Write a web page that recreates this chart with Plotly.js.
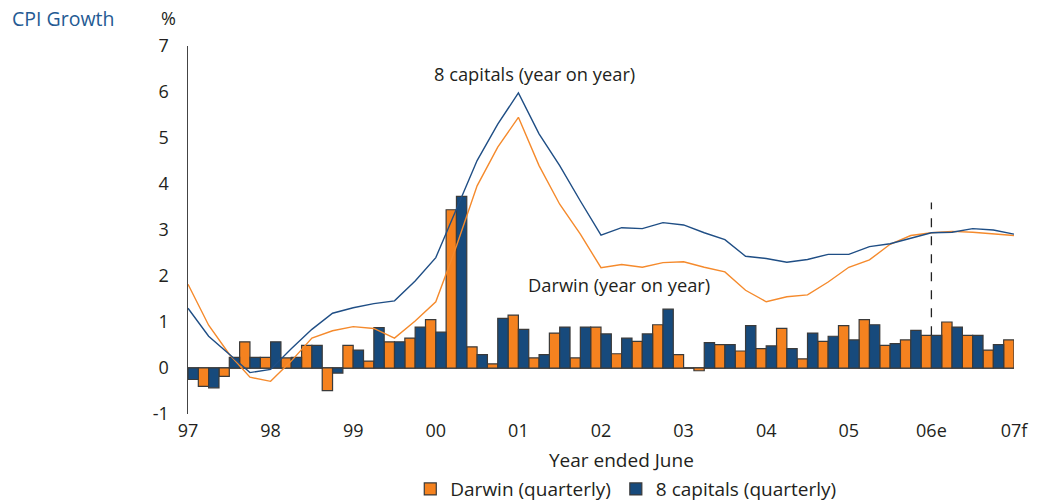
<!DOCTYPE html>
<html>
<head>
<meta charset="utf-8">
<script src="https://cdn.plot.ly/plotly-3.0.1.min.js"></script>
<style>
  html, body { margin: 0; padding: 0; background: #fff; }
  #chart { width: 1041px; height: 501px; }
</style>
</head>
<body>
<div id="chart"></div>
<script>
// Quarter index: 0 = June 1997 ... 40 = June 2007
const quarters = Array.from({length: 41}, (_, i) => i);

const tickPositions = [0, 4, 8, 12, 16, 20, 24, 28, 32, 36, 40];
const tickLabels = ['97', '98', '99', '00', '01', '02', '03', '04', '05', '06e', '07f'];

const yTickValues = [-1, 0, 1, 2, 3, 4, 5, 6, 7];
const yTickLabels = ['-1', '0', '1', '2', '3', '4', '5', '6', '7'];

// Quarterly CPI growth (%)
const darwinQuarterly = [null, -0.40, -0.18, 0.57, 0.23, 0.22, 0.49, -0.49, 0.49, 0.15,
  0.57, 0.65, 1.05, 3.44, 0.46, 0.09, 1.15, 0.22, 0.76, 0.22,
  0.89, 0.31, 0.58, 0.94, 0.29, -0.06, 0.51, 0.37, 0.42, 0.86,
  0.20, 0.58, 0.92, 1.05, 0.49, 0.61, 0.71, 1.00, 0.71, 0.39, 0.61];

const capitalsQuarterly = [-0.25, -0.43, 0.23, 0.23, 0.57, 0.23, 0.49, -0.11, 0.39, 0.88,
  0.57, 0.89, 0.78, 3.73, 0.29, 1.08, 0.84, 0.29, 0.89, 0.89,
  0.74, 0.65, 0.74, 1.28, 0.00, 0.55, 0.51, 0.92, 0.48, 0.42,
  0.76, 0.69, 0.61, 0.94, 0.53, 0.82, 0.71, 0.89, 0.71, 0.51, null];

// Year-on-year CPI growth (%)
const darwinYoY = [1.82, 0.93, 0.30, -0.20, -0.29, 0.15, 0.65, 0.81, 0.90, 0.86,
  0.65, 1.02, 1.44, 2.65, 3.96, 4.80, 5.45, 4.40, 3.56, 2.91,
  2.18, 2.25, 2.19, 2.29, 2.31, 2.19, 2.09, 1.69, 1.44, 1.55,
  1.59, 1.87, 2.19, 2.35, 2.69, 2.88, 2.94, 2.97, 2.95, 2.91, 2.88];

const capitalsYoY = [1.30, 0.69, 0.30, -0.10, -0.03, 0.42, 0.84, 1.19, 1.31, 1.40,
  1.46, 1.89, 2.40, 3.45, 4.51, 5.30, 5.98, 5.09, 4.40, 3.63,
  2.89, 3.05, 3.03, 3.16, 3.11, 2.94, 2.79, 2.43, 2.38, 2.30,
  2.36, 2.47, 2.47, 2.64, 2.70, 2.82, 2.94, 2.95, 3.03, 3.00, 2.91];

const forecastStart = 36;   // 06e
const forecastLineTop = 3.6;

const ORANGE = '#F5821F';
const BLUE = '#174A7C';
const TEXT = '#231F20';
const FONT = 'Open Sans, sans-serif';

const traces = [
  {
    type: 'bar', name: 'Darwin (quarterly)', x: quarters, y: darwinQuarterly,
    marker: {color: ORANGE, line: {color: '#3a3a3a', width: 1.2}},
    hoverinfo: 'skip'
  },
  {
    type: 'bar', name: '8 capitals (quarterly)', x: quarters, y: capitalsQuarterly,
    marker: {color: BLUE, line: {color: '#3a3a3a', width: 1.2}},
    hoverinfo: 'skip'
  },
  {
    type: 'scatter', mode: 'lines', name: 'Darwin (year on year)', x: quarters, y: darwinYoY,
    line: {color: '#F58A2C', width: 1.4}, showlegend: false, hoverinfo: 'skip'
  },
  {
    type: 'scatter', mode: 'lines', name: '8 capitals (year on year)', x: quarters, y: capitalsYoY,
    line: {color: '#1F4E85', width: 1.4}, showlegend: false, hoverinfo: 'skip'
  }
];

const layout = {
  width: 1041, height: 501,
  margin: {l: 188, r: 27, t: 46, b: 87, autoexpand: false},
  paper_bgcolor: '#fff', plot_bgcolor: '#fff',
  font: {family: FONT, color: TEXT, size: 18},
  barmode: 'group', bargap: 0, bargroupgap: 0,
  showlegend: true,
  legend: {
    orientation: 'h', x: 0.53, xanchor: 'center', y: -0.204, yanchor: 'middle',
    font: {family: FONT, size: 19, color: TEXT}, traceorder: 'normal',
    itemwidth: 30, tracegroupgap: 0
  },
  xaxis: {
    range: [0, 40], showgrid: false, zeroline: false, showline: false,
    tickmode: 'array', tickvals: tickPositions, ticktext: tickLabels,
    ticks: '', ticklabelstandoff: 4,
    tickfont: {family: FONT, size: 18, color: TEXT}, fixedrange: true
  },
  yaxis: {
    range: [-1, 7], showgrid: false,
    zeroline: true, zerolinecolor: '#555', zerolinewidth: 1.5,
    showline: true, linecolor: '#444', linewidth: 1.5,
    tickmode: 'array', tickvals: yTickValues, ticktext: yTickLabels,
    ticks: '', ticklabelstandoff: 14,
    tickfont: {family: FONT, size: 18, color: TEXT}, fixedrange: true
  },
  shapes: [
    {
      type: 'line', xref: 'x', yref: 'y',
      x0: forecastStart, x1: forecastStart,
      y0: darwinQuarterly[forecastStart], y1: forecastLineTop,
      line: {color: '#222', width: 1.3, dash: 'dash'}
    }
  ],
  annotations: [
    {text: 'CPI Growth', xref: 'paper', yref: 'paper', x: -0.216, y: 1.076,
     xanchor: 'left', yanchor: 'middle', showarrow: false,
     font: {family: FONT, size: 19.5, color: '#245A93'}},
    {text: '%', xref: 'paper', yref: 'paper', x: -0.024, y: 1.076,
     xanchor: 'center', yanchor: 'middle', showarrow: false,
     font: {family: FONT, size: 18, color: TEXT}},
    {text: '8 capitals (year on year)', xref: 'x', yref: 'y', x: 16.78, y: 6.4,
     xanchor: 'center', yanchor: 'middle', showarrow: false,
     font: {family: FONT, size: 18.3, color: TEXT}},
    {text: 'Darwin (year on year)', xref: 'x', yref: 'y', x: 20.87, y: 1.82,
     xanchor: 'center', yanchor: 'middle', showarrow: false,
     font: {family: FONT, size: 18.3, color: TEXT}},
    {text: 'Year ended June', xref: 'paper', yref: 'paper', x: 0.525, y: -0.125,
     xanchor: 'center', yanchor: 'middle', showarrow: false,
     font: {family: FONT, size: 19, color: TEXT}}
  ]
};

Plotly.newPlot('chart', traces, layout, {displayModeBar: false, staticPlot: true});
</script>
</body>
</html>
